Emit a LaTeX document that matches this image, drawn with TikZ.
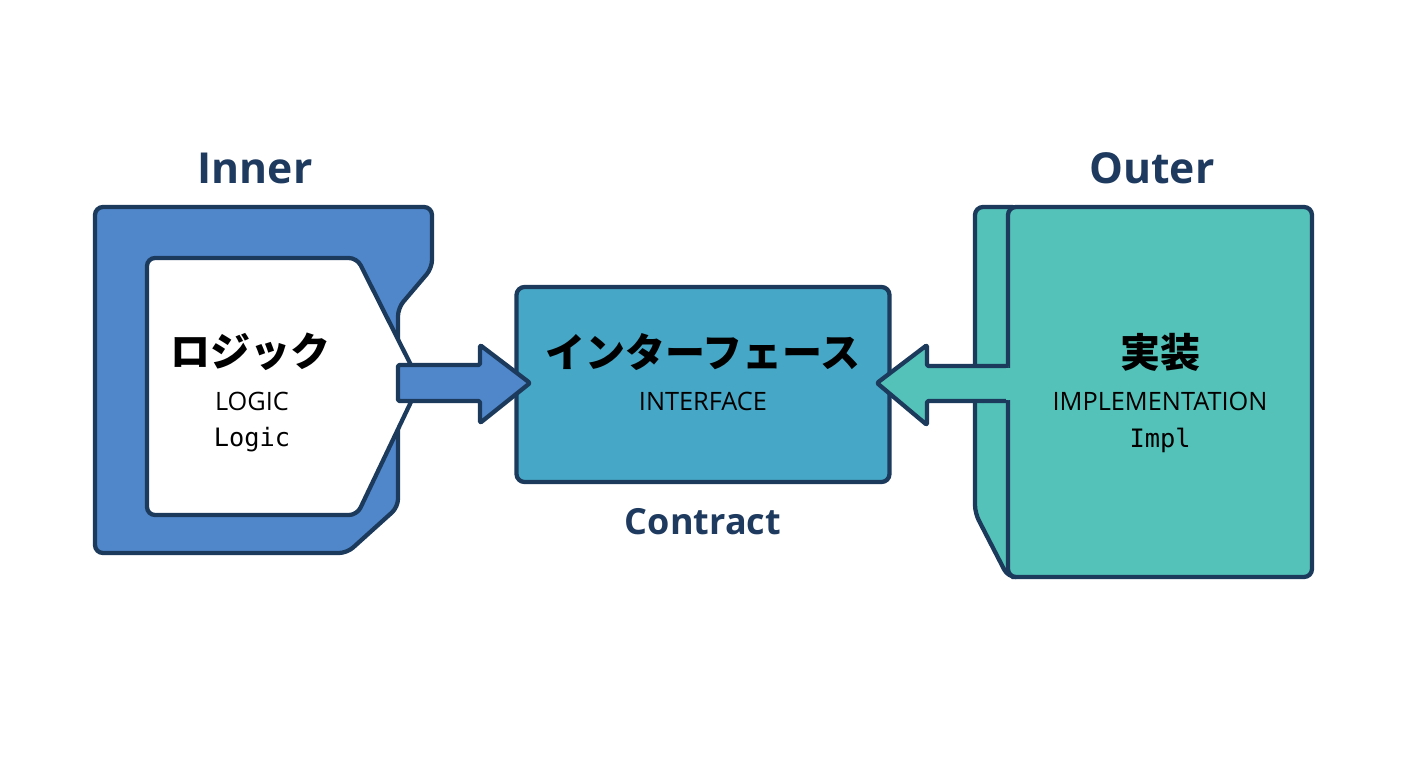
\documentclass[tikz,border=0pt]{standalone}
\usepackage{fontspec}
\setmainfont{Open Sans}
\setmonofont{DejaVu Sans Mono}
\newfontfamily\cjk{Noto Sans CJK JP}
\definecolor{bord}{HTML}{1B3A5C}
\definecolor{blu}{HTML}{5087CB}
\definecolor{mid}{HTML}{46A8C6}
\definecolor{teal}{HTML}{54C2B9}
\definecolor{ttl}{HTML}{1E3A5F}
\begin{document}
\begin{tikzpicture}[x=0.75pt,y=-0.75pt,
  shp/.style={draw=bord,line width=3.2pt,line join=round,rounded corners=6pt},
  title/.style={font=\fontsize{32}{36}\selectfont\bfseries,text=ttl},
  jp/.style={font=\cjk\bfseries\fontsize{30}{34}\selectfont},
  en/.style={font=\fontsize{19}{22}\selectfont},
  mono/.style={font=\ttfamily\fontsize{19}{22}\selectfont}]
\useasboundingbox (0,0) rectangle (1408,768);
\fill[white] (0,0) rectangle (1408,768);
% left
\path[shp,fill=blu] (95,207) -- (432,207) -- (432,268) -- (398,308) -- (398,507) -- (347,553) -- (95,553) -- cycle;
\path[shp,fill=white] (147,258) -- (357,258) -- (420,383) -- (357,515) -- (147,515) -- cycle;
% middle
\node[shp,fill=mid,minimum width=373*0.75pt,minimum height=195*0.75pt] (mid) at (703,384.5) {};
% right
\path[shp,fill=teal] (975,207) -- (1020,207) -- (1020,577) -- (1008,577) -- (975,513) -- cycle;
\node[shp,fill=teal,minimum width=304*0.75pt,minimum height=370*0.75pt] (impl) at (1160,392) {};
% arrows
\coordinate (la) at (398,383);
\path[shp,rounded corners=1pt,fill=blu] (la) ++(0,-18) -- ++(82,0) -- ++(0,-20) -- (530,383) -- (480,423) -- ++(0,-22) -- (398,401) -- cycle;
\path[shp,rounded corners=1pt,fill=teal] (1008,366) -- (927,366) -- (927,345) -- (877,383) -- (927,425) -- (927,401) -- (1008,401);
\fill[teal] (1006,367.5) rectangle (1012,399.5);
% texts
\node[title] (t1) at (255,168) {Inner};
\node[title] (t2) at (1152,168) {Outer};
\node[title,font=\fontsize{27}{30}\selectfont\bfseries] (t3) at (703,522) {Contract};
\node[jp] (a1) at (250,352) {ロジック};
\node[en] (a2) at (252,401) {LOGIC};
\node[mono] (a3) at (252,440) {Logic};
\node[jp] (b1) at (703,352) {インターフェース};
\node[en] (b2) at (703,401) {INTERFACE};
\node[jp] (c1) at (1160,352) {実装};
\node[en] (c2) at (1160,401) {IMPLEMENTATION};
\node[mono] (c3) at (1160,440) {Impl};
\end{tikzpicture}
\end{document}
